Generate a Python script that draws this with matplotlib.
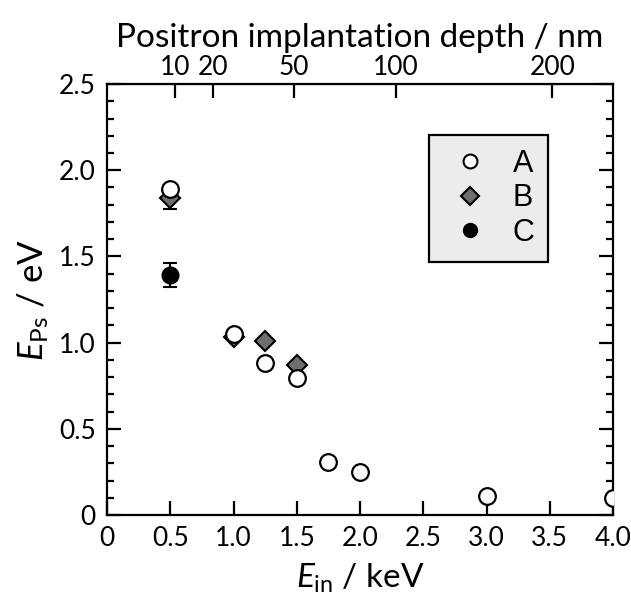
import numpy as np
import matplotlib.pyplot as plt
from matplotlib.ticker import MultipleLocator, FixedLocator, FuncFormatter

plt.rcParams["font.family"] = ["Lato", "DejaVu Sans"]
plt.rcParams["mathtext.fontset"] = "custom"
plt.rcParams["mathtext.rm"] = "Lato"
plt.rcParams["mathtext.it"] = "Lato:italic"

# Ps emission energy vs. positron incident energy
e_a = [0.5, 1.0, 1.25, 1.5, 1.75, 2.0, 3.0, 4.0]
eps_a = [1.89, 1.05, 0.88, 0.795, 0.305, 0.25, 0.11, 0.10]

e_b = [0.5, 1.0, 1.25, 1.5]
eps_b = [1.84, 1.03, 1.01, 0.87]
err_b = [0.065, 0.0, 0.0, 0.0]

e_c = [0.5]
eps_c = [1.39]
err_c = [0.07]

depth_ticks = [10, 20, 50, 100, 200]


def energy_to_depth(e):
    return 26.7 * np.power(np.clip(e, 1e-9, None), 1.6)


def depth_to_energy(z):
    return np.power(np.clip(z, 1e-9, None) / 26.7, 1 / 1.6)


fig = plt.figure(figsize=(6.31, 5.96), dpi=100)
ax = fig.add_axes([0.1696, 0.1359, 0.8019, 0.7231])

ax.errorbar(e_b, eps_b, yerr=err_b, fmt="D", ms=10.5, mfc="#6e6e6e", mec="black",
            mew=1.5, ecolor="black", elinewidth=1.5, capsize=5, capthick=1.5,
            zorder=3)
ax.plot(e_a, eps_a, "o", ms=12, mfc="white", mec="black", mew=1.6, zorder=4)
ax.errorbar(e_c, eps_c, yerr=err_c, fmt="o", ms=12, mfc="black", mec="black",
            ecolor="black", elinewidth=1.5, capsize=5, capthick=1.5, zorder=5)

ax.set_xlim(0, 4.0)
ax.set_ylim(0, 2.5)
ax.xaxis.set_major_locator(MultipleLocator(0.5))
ax.yaxis.set_major_locator(MultipleLocator(0.5))
ax.yaxis.set_minor_locator(MultipleLocator(0.1))
fmt = FuncFormatter(lambda v, p: "0" if abs(v) < 1e-9 else f"{v:.1f}")
ax.xaxis.set_major_formatter(fmt)
ax.yaxis.set_major_formatter(fmt)

ax.tick_params(which="both", direction="in", width=1.6, labelsize=19,
               left=True, right=True, bottom=True, top=False)
ax.tick_params(which="major", length=10)
ax.tick_params(which="minor", length=5)
ax.tick_params(axis="x", pad=8)
ax.tick_params(axis="y", pad=8)
for s in ax.spines.values():
    s.set_linewidth(1.6)

ax.set_xlabel(r"$\mathit{E}_{\mathrm{in}}$ / keV", fontsize=24, labelpad=8)
ax.set_ylabel(r"$\mathit{E}_{\mathrm{Ps}}$ / eV", fontsize=25, labelpad=6)

top = ax.secondary_xaxis("top", functions=(energy_to_depth, depth_to_energy))
top.xaxis.set_major_locator(FixedLocator(depth_ticks))
top.xaxis.set_minor_locator(FixedLocator([]))
top.tick_params(direction="in", length=10, width=1.6, labelsize=19, pad=3)
top.set_xlabel("Positron implantation depth / nm", fontsize=24, labelpad=6)

leg = ax.legend(
    [plt.Line2D([], [], ls="", marker="o", ms=10, mfc="white", mec="black", mew=1.5),
     plt.Line2D([], [], ls="", marker="D", ms=9, mfc="#6e6e6e", mec="black", mew=1.5),
     plt.Line2D([], [], ls="", marker="o", ms=10, mfc="black", mec="black")],
    ["A", "B", "C"], loc="upper left", bbox_to_anchor=(0.636, 0.882),
    borderaxespad=0, frameon=True, fancybox=False, handletextpad=0.5,
    handlelength=1.8, borderpad=0.45, labelspacing=0.15,
    prop={"family": "Liberation Sans", "size": 22})
leg.get_frame().set_facecolor("#ececec")
leg.get_frame().set_edgecolor("black")
leg.get_frame().set_linewidth(1.6)
leg.get_frame().set_alpha(1)

fig.savefig("out.png", dpi=100)
